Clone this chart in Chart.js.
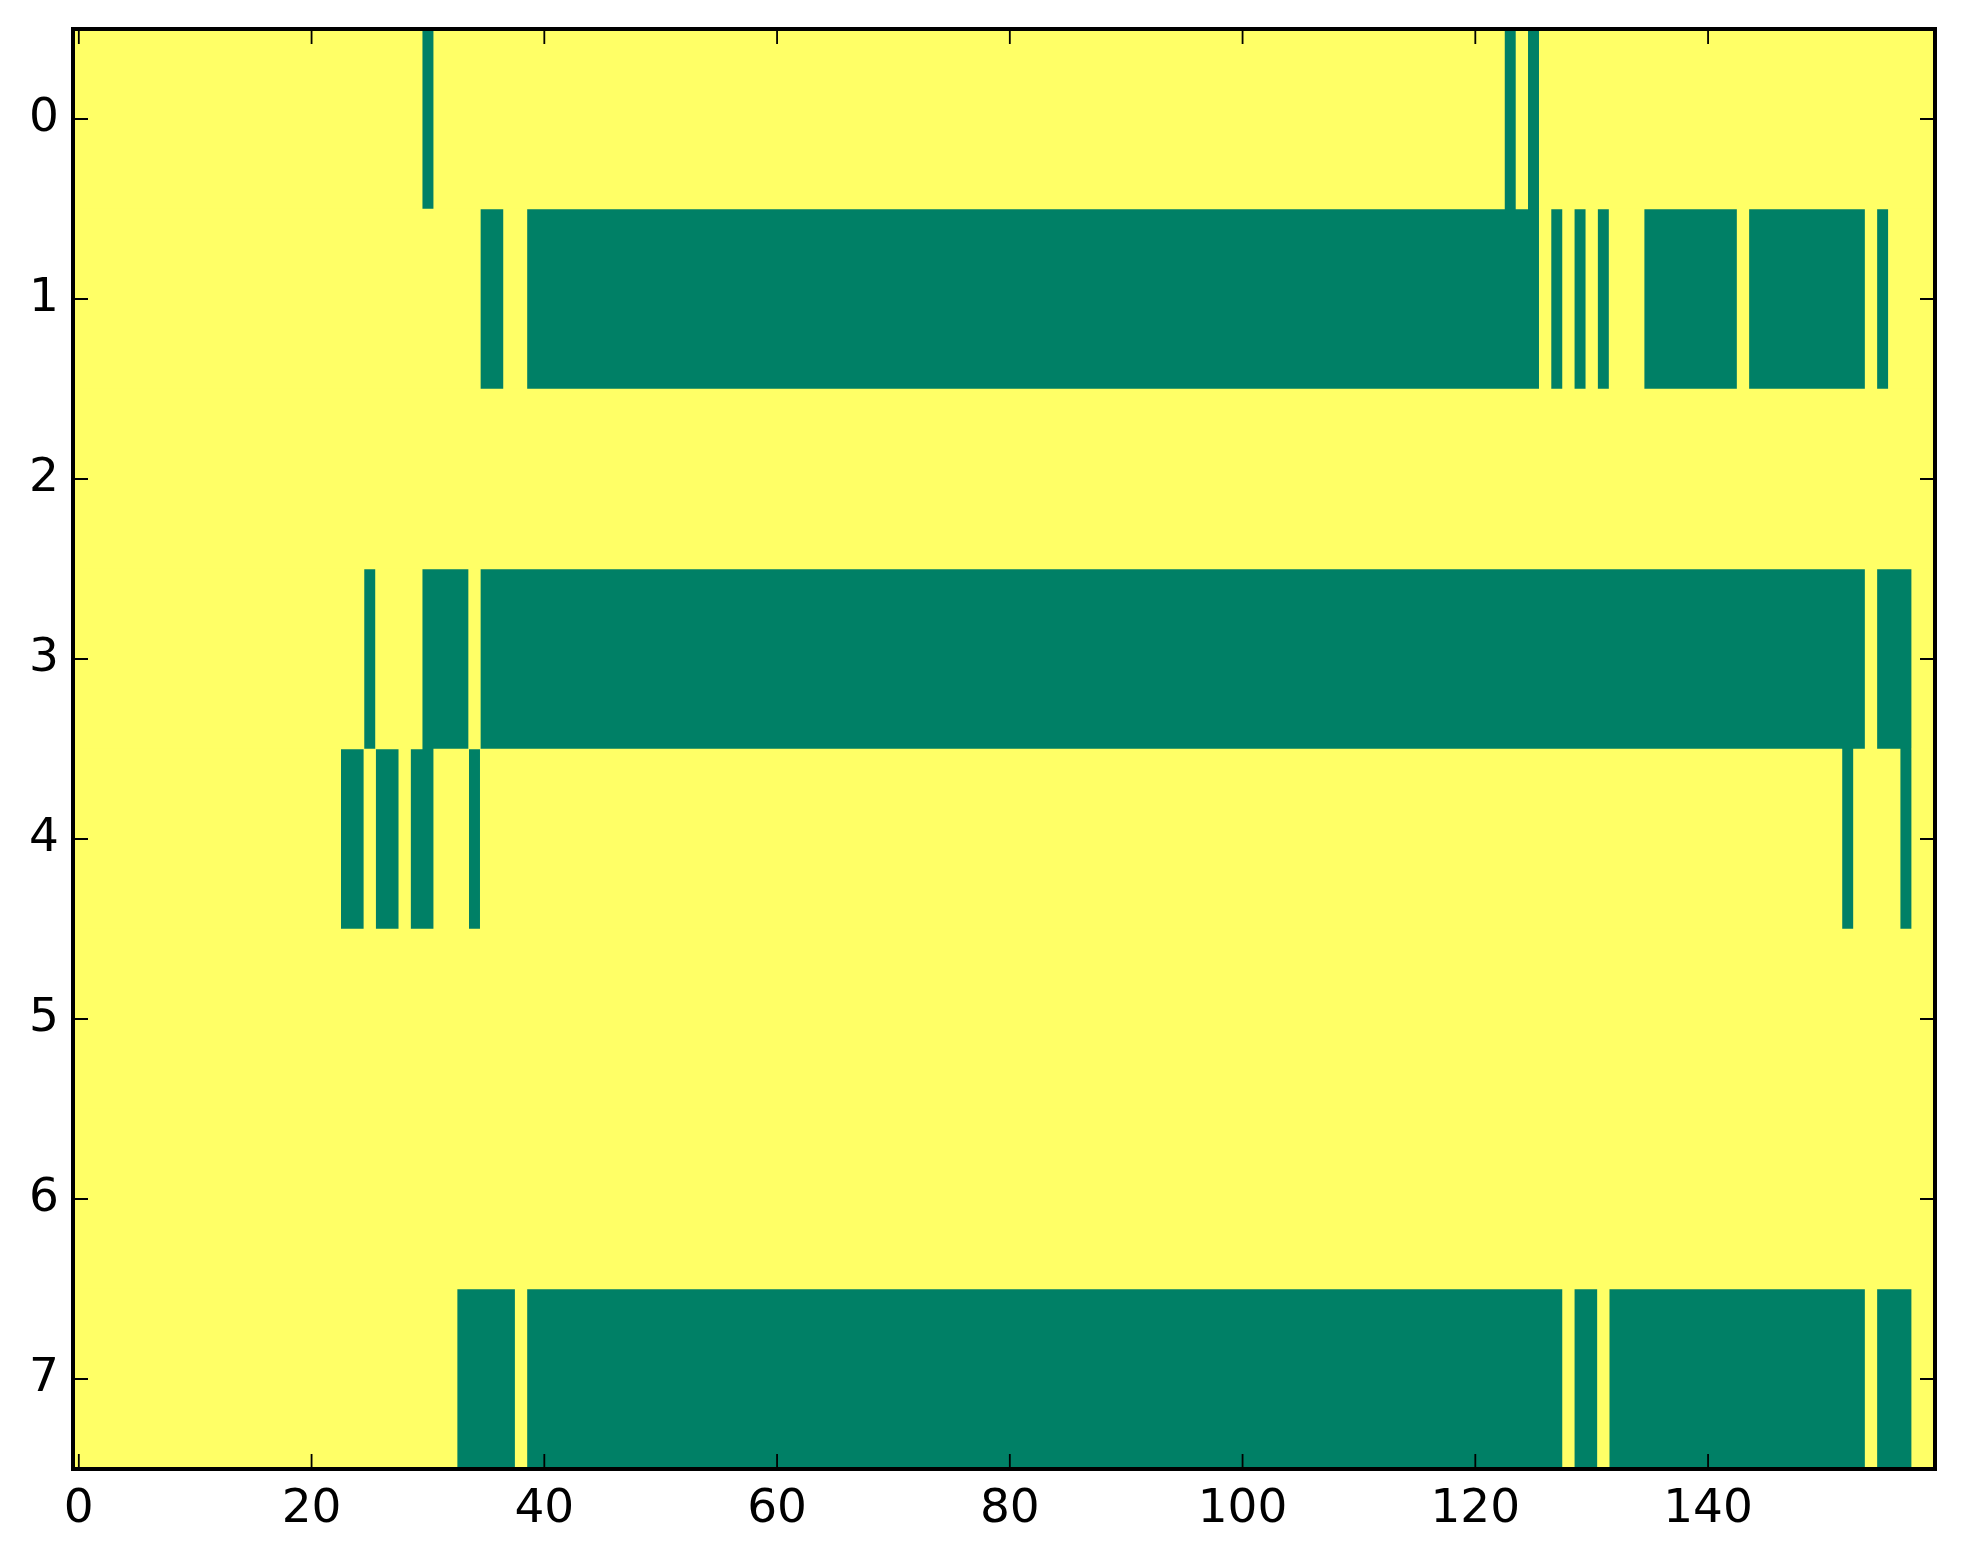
<!DOCTYPE html>
<html>
<head>
<meta charset="utf-8">
<script src="https://cdn.jsdelivr.net/npm/chart.js@4.4.1/dist/chart.umd.min.js"></script>
<style>
  html, body { margin: 0; padding: 0; background: #ffffff; }
  #wrap { width: 1963px; height: 1564px; }
</style>
</head>
<body>
<div id="wrap"><canvas id="grid" width="1963" height="1564"></canvas></div>
<script>
// row labels (y categories) and x ticks
const rowLabels = ['0', '1', '2', '3', '4', '5', '6', '7'];
const xTicks = [0, 20, 40, 60, 80, 100, 120, 140];
const nCols = 160;

// green (value 0) runs per row, as [first column, last column]; everything else is yellow (value 1)
const row0 = [[30, 30], [123, 123], [125, 125]];
const row1 = [[35, 36], [39, 125], [127, 127], [129, 129], [131, 131], [135, 142], [144, 153], [155, 155]];
const row2 = [];
const row3 = [[25, 25], [30, 33], [35, 153], [155, 157]];
const row4 = [[23, 24], [26, 27], [29, 30], [34, 34], [152, 152], [157, 157]];
const row5 = [];
const row6 = [];
const row7 = [[33, 37], [39, 127], [129, 130], [132, 153], [155, 157]];
const rows = [row0, row1, row2, row3, row4, row5, row6, row7];

const lowColor = '#008066';
const highColor = '#ffff66';

// build the 0/1 matrix, then turn it back into runs of equal value
function buildMatrix() {
    return rows.map(runs => {
        const cells = new Array(nCols).fill(1);
        runs.forEach(([a, b]) => {
            for (let c = a; c <= b; c++) cells[c] = 0;
        });
        return cells;
    });
}

function runsOf(matrix, value) {
    const out = [];
    matrix.forEach((cells, r) => {
        let start = -1;
        for (let c = 0; c <= nCols; c++) {
            const on = c < nCols && cells[c] === value;
            if (on && start < 0) start = c;
            if (!on && start >= 0) {
                out.push({ y: rowLabels[r], x: [start - 0.5, c - 0.5] });
                start = -1;
            }
        }
    });
    return out;
}

const matrix = buildMatrix();

const frame = {
    id: 'frame',
    afterDraw(chart) {
        const ctx = chart.ctx;
        const a = chart.chartArea;
        const xs = chart.scales.x;
        const ys = chart.scales.y;
        const len = 15;
        ctx.save();
        ctx.strokeStyle = '#000000';
        ctx.lineWidth = 1.8;
        ctx.beginPath();
        xTicks.forEach(v => {
            const px = xs.getPixelForValue(v);
            ctx.moveTo(px, a.bottom); ctx.lineTo(px, a.bottom - len);
            ctx.moveTo(px, a.top); ctx.lineTo(px, a.top + len);
        });
        rowLabels.forEach((lab, i) => {
            const py = ys.getPixelForValue(i);
            ctx.moveTo(a.left, py); ctx.lineTo(a.left + len, py);
            ctx.moveTo(a.right, py); ctx.lineTo(a.right - len, py);
        });
        ctx.stroke();
        ctx.lineWidth = 4;
        ctx.strokeRect(a.left, a.top, a.right - a.left, a.bottom - a.top);
        ctx.restore();
    }
};

const tickFont = { family: 'DejaVu Sans', size: 47 };

new Chart(document.getElementById('grid'), {
    type: 'bar',
    data: {
        labels: rowLabels,
        datasets: [
            {
                label: '1',
                data: runsOf(matrix, 1),
                backgroundColor: highColor,
                borderWidth: 0,
                grouped: false,
                barPercentage: 1,
                categoryPercentage: 1
            },
            {
                label: '0',
                data: runsOf(matrix, 0),
                backgroundColor: lowColor,
                borderWidth: 0,
                grouped: false,
                barPercentage: 1,
                categoryPercentage: 1
            }
        ]
    },
    options: {
        indexAxis: 'y',
        responsive: false,
        devicePixelRatio: 1,
        animation: false,
        layout: { padding: { left: 0, top: 29, right: 28, bottom: 0 } },
        plugins: {
            legend: { display: false },
            tooltip: { enabled: false }
        },
        scales: {
            x: {
                type: 'linear',
                position: 'bottom',
                min: -0.5,
                max: nCols - 0.5,
                grid: { display: false },
                border: { display: false },
                afterBuildTicks: scale => {
                    scale.ticks = xTicks.map(v => ({ value: v }));
                },
                afterFit: scale => {
                    scale.height = 95;
                    scale.paddingRight = 0;
                },
                ticks: {
                    color: '#000000',
                    font: tickFont,
                    padding: 5,
                    maxRotation: 0,
                    autoSkip: false
                }
            },
            y: {
                type: 'category',
                position: 'left',
                offset: true,
                grid: { display: false, offset: true },
                border: { display: false },
                afterFit: scale => {
                    scale.width = 73;
                    scale.paddingTop = 0;
                    scale.paddingBottom = 0;
                },
                ticks: {
                    color: '#000000',
                    font: tickFont,
                    padding: 6
                }
            }
        }
    },
    plugins: [frame]
});
</script>
</body>
</html>
